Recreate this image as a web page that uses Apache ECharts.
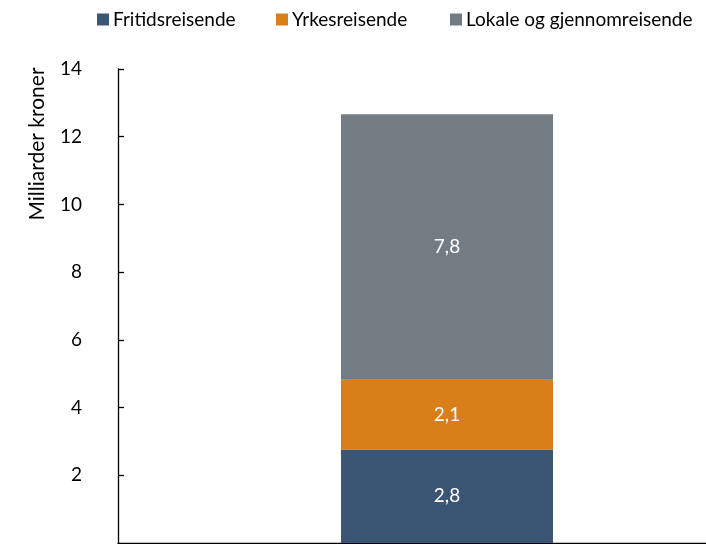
<!DOCTYPE html>
<html>
<head>
<meta charset="utf-8">
<script src="https://cdn.jsdelivr.net/npm/echarts@6/dist/echarts.min.js"></script>
<style>
  html, body { margin: 0; padding: 0; background: #fff; }
  #chart { width: 706px; height: 544px; }
</style>
</head>
<body>
<div id="chart"></div>
<script>
// data
var categories = [''];
var seriesNames = ['Fritidsreisende', 'Yrkesreisende', 'Lokale og gjennomreisende'];
var fritid = [2.76];
var yrke = [2.06];
var lokale = [7.84];
var colors = ['#3a5674', '#d97f1a', '#737b83'];
var yTicks = [0, 14, 2];  // min, max, interval

var font = 'Lato, "Open Sans", sans-serif';
var legendLeft = [97, 276, 450];
var myChart = echarts.init(document.getElementById('chart'));

function lbl(p) {
    return p.value.toFixed(1).replace('.', ',');
}

function bar(name, data, color) {
    return {
        name: name,
        type: 'bar',
        stack: 'total',
        barWidth: 212,
        itemStyle: { color: color },
        label: {
            show: true,
            position: 'inside',
            color: '#fff',
            fontSize: 19,
            fontFamily: font,
            formatter: lbl
        },
        data: data
    };
}

// one legend per item so each sits where it is in the picture
var legends = seriesNames.map(function (n, i) {
    return {
        left: legendLeft[i],
        top: 10,
        itemWidth: 12,
        itemHeight: 12,
        itemGap: 5,
        icon: 'rect',
        padding: 0,
        textStyle: { fontSize: 19, color: '#000', fontFamily: font, padding: [0, 0, 0, -1] },
        data: [n]
    };
});

var option = {
    animation: false,
    color: colors,
    textStyle: { fontFamily: font },
    legend: legends,
    grid: {
        left: 118,
        right: -70,
        top: 69,
        bottom: 1,
        outerBoundsMode: 'none'
    },
    xAxis: {
        type: 'category',
        data: categories,
        axisLine: { lineStyle: { color: '#000', width: 1.3 } },
        axisTick: { show: false },
        axisLabel: { show: false }
    },
    yAxis: {
        type: 'value',
        min: yTicks[0],
        max: yTicks[1],
        interval: yTicks[2],
        axisLine: { show: true, lineStyle: { color: '#000', width: 1.3 } },
        axisTick: { show: true, inside: true, length: 6, lineStyle: { color: '#000', width: 1.3 } },
        axisLabel: { showMinLabel: false, margin: 36, fontSize: 19, color: '#000', fontFamily: font },
        splitLine: { show: false }
    },
    graphic: [{
        type: 'text',
        x: 37,
        y: 144,
        rotation: Math.PI / 2,
        style: {
            text: 'Milliarder kroner',
            fill: '#000',
            font: '21px ' + font,
            textAlign: 'center',
            textVerticalAlign: 'middle'
        }
    }],
    series: [
        bar(seriesNames[0], fritid, colors[0]),
        bar(seriesNames[1], yrke, colors[1]),
        bar(seriesNames[2], lokale, colors[2])
    ]
};
myChart.setOption(option);
</script>
</body>
</html>
